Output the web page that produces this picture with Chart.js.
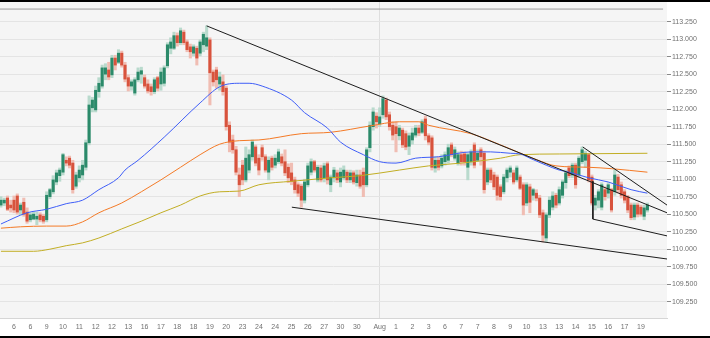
<!DOCTYPE html>
<html>
<head>
<meta charset="utf-8">
<script src="https://cdn.jsdelivr.net/npm/chart.js@4.4.0/dist/chart.umd.min.js"></script>
<style>
  html, body { margin: 0; padding: 0; background: #fff; }
  canvas { display: block; }
</style>
</head>
<body>
<canvas id="grafico" width="710" height="338"></canvas>
<script>
// Velas (4h)
const openP = [
  110.63,110.66,110.73,110.63,110.70,110.76,110.56,110.67,110.53,110.42,
  110.43,110.43,110.49,110.47,110.42,110.75,110.82,110.96,111.05,111.10,
  111.27,111.30,111.23,110.90,111.02,111.06,111.17,111.52,112.02,111.99,
  112.25,112.33,112.50,112.56,112.49,112.73,112.67,112.80,112.63,112.45,
  112.33,112.23,112.42,112.50,112.45,112.36,112.32,112.25,112.45,112.36,
  112.37,112.62,112.87,112.87,113.05,112.95,113.10,112.96,112.89,112.80,
  112.87,112.80,112.92,112.90,112.99,112.53,112.56,112.36,112.39,112.30,
  111.77,111.56,111.42,111.06,111.20,110.99,111.13,111.32,111.46,111.30,
  111.45,111.32,111.10,111.30,111.20,111.25,111.32,111.25,111.17,111.09,
  110.99,110.92,110.90,110.70,110.92,111.10,111.25,110.99,111.16,111.02,
  111.22,110.92,111.02,111.09,110.96,111.02,111.10,110.99,111.09,110.95,
  111.06,111.10,110.92,111.45,111.75,111.90,111.79,111.92,112.13,111.92,
  111.77,111.75,111.62,111.70,111.65,111.47,111.56,111.63,111.73,111.67,
  111.86,111.62,111.59,111.16,111.27,111.19,111.25,111.27,111.49,111.30,
  111.23,111.35,111.36,111.17,111.25,111.49,111.27,111.42,111.37,110.96,
  111.13,111.06,111.03,110.89,110.82,111.02,111.10,111.09,110.99,111.03,
  110.92,110.66,110.89,110.77,110.80,110.73,110.52,110.16,110.49,110.60,
  110.77,110.66,110.77,110.95,111.16,111.06,111.20,111.06,111.25,111.27,
  111.35,111.03,110.63,110.70,110.60,110.85,110.80,110.85,110.82,111.03,
  110.92,110.82,110.75,110.63,110.46,110.63,110.60,110.47,110.56
];
const highP = [
  110.75,110.73,110.76,110.70,110.76,110.79,110.66,110.73,110.59,110.52,
  110.53,110.53,110.52,110.50,110.82,110.87,111.05,111.13,111.16,111.37,
  111.32,111.33,111.27,111.10,111.19,111.27,111.56,112.19,112.17,112.33,
  112.45,112.63,112.65,112.67,112.77,112.77,112.85,112.83,112.67,112.49,
  112.42,112.45,112.59,112.60,112.49,112.42,112.36,112.45,112.47,112.59,
  112.62,112.95,113.02,113.10,113.09,113.16,113.13,112.99,112.93,112.92,
  112.90,112.99,113.10,113.19,113.02,112.56,112.60,112.53,112.49,112.33,
  111.82,111.63,111.47,111.16,111.27,111.46,111.42,111.56,111.49,111.35,
  111.49,111.35,111.32,111.33,111.35,111.43,111.36,111.42,111.22,111.23,
  111.03,110.95,110.93,111.00,111.23,111.29,111.27,111.20,111.20,111.23,
  111.25,111.06,111.17,111.13,111.16,111.19,111.13,111.13,111.12,111.13,
  111.13,111.16,111.45,111.82,112.02,111.95,112.02,112.19,112.16,111.96,
  111.82,111.82,111.77,111.73,111.69,111.66,111.73,111.77,111.77,111.85,
  111.90,111.65,111.62,111.32,111.32,111.35,111.39,111.50,111.52,111.46,
  111.39,111.40,111.39,111.37,111.42,111.52,111.42,111.45,111.40,111.16,
  111.16,111.10,111.06,110.92,111.07,111.16,111.19,111.13,111.19,111.06,
  110.95,110.95,110.93,110.87,110.85,110.77,110.56,110.52,110.75,110.82,
  110.80,110.89,110.99,111.13,111.19,111.23,111.23,111.33,111.46,111.40,
  111.37,111.06,110.77,110.85,110.95,110.89,110.95,110.87,111.13,111.07,
  110.96,110.85,110.77,110.66,110.66,110.66,110.63,110.63,110.66
];
const lowP = [
  110.60,110.62,110.55,110.53,110.52,110.50,110.49,110.47,110.37,110.39,
  110.42,110.35,110.39,110.37,110.39,110.72,110.79,110.92,110.97,111.06,
  111.19,111.16,110.80,110.87,110.96,110.99,111.13,111.49,111.96,111.96,
  112.17,112.30,112.42,112.42,112.45,112.56,112.65,112.60,112.39,112.26,
  112.27,112.20,112.39,112.37,112.30,112.23,112.20,112.22,112.26,112.27,
  112.33,112.59,112.79,112.85,112.90,112.92,112.92,112.82,112.73,112.76,
  112.63,112.76,112.82,112.85,112.06,112.33,112.30,112.27,112.20,111.70,
  111.39,111.37,111.06,110.75,110.92,110.96,111.09,111.27,111.19,111.06,
  111.27,111.10,110.99,111.13,111.16,111.22,111.19,111.05,110.95,110.92,
  110.80,110.75,110.60,110.66,110.89,111.06,111.10,110.96,110.96,110.96,
  110.93,110.82,110.96,110.95,110.89,110.99,110.95,110.95,110.93,110.90,
  110.87,110.75,110.89,111.39,111.70,111.73,111.75,111.87,111.85,111.70,
  111.56,111.39,111.56,111.45,111.42,111.35,111.50,111.60,111.62,111.65,
  111.56,111.49,111.13,111.10,111.13,111.16,111.20,111.23,111.32,111.27,
  111.20,111.20,111.20,110.99,111.20,111.16,111.25,111.20,110.80,110.92,
  110.95,110.85,110.70,110.70,110.79,110.96,111.03,110.93,110.96,110.85,
  110.49,110.62,110.52,110.70,110.69,110.45,110.10,110.10,110.45,110.56,
  110.59,110.63,110.73,110.87,111.02,111.02,110.87,111.02,111.22,111.17,
  110.96,110.63,110.56,110.59,110.56,110.70,110.73,110.53,110.77,110.80,
  110.73,110.66,110.52,110.42,110.42,110.46,110.47,110.42,110.53
];
const closeP = [
  110.70,110.70,110.57,110.59,110.56,110.53,110.63,110.50,110.40,110.49,
  110.50,110.47,110.42,110.40,110.77,110.85,110.99,111.09,111.13,111.35,
  111.23,111.20,110.85,111.06,111.13,111.20,111.52,112.06,112.13,112.27,
  112.37,112.59,112.59,112.46,112.73,112.63,112.80,112.63,112.43,112.33,
  112.39,112.42,112.53,112.55,112.33,112.26,112.25,112.42,112.30,112.53,
  112.59,112.92,112.96,113.05,112.95,113.12,112.95,112.85,112.82,112.89,
  112.73,112.96,113.07,113.02,112.52,112.39,112.42,112.46,112.25,111.75,
  111.53,111.42,111.10,110.92,110.99,111.30,111.35,111.53,111.23,111.13,
  111.32,111.13,111.27,111.17,111.30,111.39,111.23,111.09,111.02,110.97,
  110.85,110.80,110.70,110.96,111.19,111.25,111.13,111.17,110.99,111.19,
  110.99,111.03,111.13,110.99,111.10,111.13,110.99,111.09,110.96,111.06,
  110.90,110.92,111.42,111.77,111.96,111.82,111.89,112.15,111.89,111.75,
  111.63,111.65,111.73,111.49,111.46,111.62,111.66,111.73,111.66,111.82,
  111.62,111.53,111.17,111.27,111.17,111.30,111.35,111.45,111.35,111.42,
  111.35,111.25,111.25,111.35,111.39,111.20,111.37,111.32,110.85,111.13,
  110.99,110.89,110.77,110.75,111.03,111.13,111.16,110.96,111.16,110.87,
  110.63,110.92,110.67,110.85,110.73,110.49,110.20,110.49,110.70,110.76,
  110.63,110.85,110.96,111.09,111.05,111.20,110.92,111.30,111.42,111.37,
  110.99,110.66,110.73,110.82,110.92,110.75,110.92,110.56,111.06,110.85,
  110.77,110.70,110.56,110.45,110.63,110.50,110.50,110.59,110.63
];

// Médias móveis (índice da vela, preço)
const maAzulIdx = [0, 8, 14, 20, 25, 30, 36, 38, 42, 50, 61, 67, 73, 76, 80, 89, 93, 100, 104, 111, 116, 121, 127, 134, 144, 150, 156, 159, 162, 167, 171, 174, 180, 186, 193, 198];
const maAzul    = [110.36, 110.52, 110.57, 110.65, 110.70, 110.85, 111.02, 111.13, 111.27, 111.60, 112.09, 112.32, 112.37, 112.37, 112.33, 112.13, 111.95, 111.73, 111.53, 111.35, 111.25, 111.23, 111.30, 111.32, 111.39, 111.39, 111.37, 111.36, 111.30, 111.20, 111.13, 111.10, 111.02, 110.96, 110.85, 110.80];
const maLaranjaIdx = [0, 6, 14, 20, 25, 30, 37, 43, 49, 55, 61, 67, 73, 79, 92, 101, 113, 122, 128, 131, 144, 153, 164, 170, 180, 187, 198];
const maLaranja    = [110.30, 110.32, 110.33, 110.33, 110.39, 110.52, 110.66, 110.82, 110.99, 111.17, 111.35, 111.50, 111.55, 111.56, 111.65, 111.67, 111.76, 111.82, 111.82, 111.77, 111.65, 111.49, 111.28, 111.19, 111.17, 111.15, 111.10];
const maOlivaIdx = [0, 10, 15, 20, 25, 30, 37, 43, 49, 55, 61, 67, 73, 79, 89, 101, 110, 122, 131, 141, 153, 159, 171, 198];
const maOliva    = [109.97, 109.97, 110.00, 110.05, 110.09, 110.16, 110.29, 110.40, 110.52, 110.63, 110.76, 110.82, 110.83, 110.92, 110.97, 111.02, 111.05, 111.13, 111.19, 111.23, 111.30, 111.35, 111.36, 111.37];

// Linhas de tendência (índice, preço)
const tendSuperior   = [[63, 113.19], [204, 110.52]];
const tendInferior   = [[89.1, 110.60], [204, 109.86]];
const cunhaSuperior  = [[178.2, 111.46], [204, 110.63]];
const cunhaInferior  = [[181.3, 110.97], [181.3, 110.43], [204, 110.19]];
const linhaTopo      = [[-0.3, 113.43], [202.8, 113.43]];

// Eixos
const xTickPos = [4, 9, 14, 19, 24, 29, 34, 39, 44, 49, 54, 59, 64, 69, 74, 79, 84, 89, 94, 99, 104, 109,
                  116, 121, 126, 131, 136, 141, 146, 151, 156, 161, 166, 171, 176, 181, 186, 191, 196];
const xTickLabels = ['6', '6', '9', '10', '11', '12', '12', '13', '16', '17', '18', '18', '19', '20', '23', '24', '24', '25', '26', '27', '30', '30',
                     'Aug', '1', '2', '3', '6', '7', '7', '8', '9', '10', '13', '13', '14', '15', '16', '17', '19'];
const yTicks = [109.25, 109.5, 109.75, 110, 110.25, 110.5, 110.75, 111, 111.25, 111.5, 111.75, 112, 112.25, 112.5, 112.75, 113, 113.25];
const MES_POS = 116;
const X_MIN = -0.29, X_MAX = 204.0;
const Y_MIN = 109.017, Y_MAX = 113.531;

// Cores
const VERDE = '#2b8a6a', VERDE_CLARO = '#b9dacd';
const VERMELHO = '#d8533d', VERMELHO_CLARO = '#f0bdb3';
const fonte = { family: "'Liberation Sans', Arial, sans-serif", size: 7 };

const idx = closeP.map((_, i) => i);
const sobe = idx.map(i => closeP[i] >= openP[i]);
const pares = (xs, ys) => xs.map((x, k) => ({ x: x, y: ys[k] }));
const pontos = arr => arr.map(p => ({ x: p[0], y: p[1] }));

function linha(data, cor, ordem, extra) {
  return Object.assign({
    type: 'line', data: data, borderColor: cor, borderWidth: 1,
    pointRadius: 0, fill: false, order: ordem
  }, extra || {});
}

// sem folga extra em volta da área do gráfico
function semFolga(s) {
  s.paddingTop = 0; s.paddingBottom = 0;
  s.paddingLeft = 0; s.paddingRight = 0;
}

const fundo = {
  id: 'fundo',
  beforeDraw(chart) {
    const { ctx, chartArea: a, width, height } = chart;
    ctx.save();
    ctx.fillStyle = '#ffffff';
    ctx.fillRect(0, 0, width, height);
    ctx.fillStyle = '#f5f5f5';
    ctx.fillRect(a.left, a.top, a.right - a.left, a.bottom - a.top);
    ctx.restore();
  },
  afterDraw(chart) {
    const { ctx, width, height } = chart;
    ctx.save();
    ctx.fillStyle = '#000';
    ctx.fillRect(0, 0, width, 2);
    ctx.fillRect(0, height - 2, width, 2);
    ctx.restore();
  }
};

new Chart(document.getElementById('grafico'), {
  type: 'bar',
  data: {
    datasets: [
      linha(pontos(linhaTopo), '#9a9a9a', -2),
      linha(pontos(tendSuperior), '#1c1c1c', -1),
      linha(pontos(tendInferior), '#1c1c1c', -1),
      linha(pontos(cunhaSuperior), '#1c1c1c', -1),
      linha(pontos(cunhaInferior), '#1c1c1c', -1),
      linha(pares(maAzulIdx, maAzul), '#3f5ef8', 0, { cubicInterpolationMode: 'monotone' }),
      linha(pares(maLaranjaIdx, maLaranja), '#f47a26', 0, { cubicInterpolationMode: 'monotone' }),
      linha(pares(maOlivaIdx, maOliva), '#c2ae24', 0, { cubicInterpolationMode: 'monotone' }),
      {
        label: 'corpo',
        data: idx.map(i => ({ x: i, y: [openP[i], closeP[i]] })),
        backgroundColor: idx.map(i => sobe[i] ? VERDE : VERMELHO),
        barThickness: 2.4, minBarLength: 1, grouped: false, borderWidth: 0, order: 1
      },
      {
        label: 'pavio',
        data: idx.map(i => ({ x: i, y: [lowP[i], highP[i]] })),
        backgroundColor: idx.map(i => sobe[i] ? VERDE_CLARO : VERMELHO_CLARO),
        barThickness: 2.4, grouped: false, borderWidth: 0, order: 2
      }
    ]
  },
  options: {
    responsive: false,
    animation: false,
    devicePixelRatio: 1,
    layout: { padding: { top: 2, left: 0, right: 0, bottom: 0 } },
    plugins: { legend: { display: false }, tooltip: { enabled: false } },
    scales: {
      x: {
        type: 'linear', min: X_MIN, max: X_MAX, offset: false,
        afterBuildTicks: s => { s.ticks = xTickPos.map(v => ({ value: v })); },
        afterFit: s => { s.height = 20; semFolga(s); },
        grid: {
          offset: false,
          drawTicks: false,
          color: c => (c.tick && c.tick.value === MES_POS) ? '#dedede' : 'rgba(0,0,0,0)'
        },
        border: { color: '#d6d6d6' },
        ticks: {
          autoSkip: false, maxRotation: 0, minRotation: 0, padding: 5,
          color: '#707070', font: fonte,
          callback: (v, i) => xTickLabels[i]
        }
      },
      y: {
        position: 'right', min: Y_MIN, max: Y_MAX,
        afterBuildTicks: s => { s.ticks = yTicks.map(v => ({ value: v })); },
        afterFit: s => { s.width = 43; semFolga(s); },
        grid: { color: '#e4e4e4', tickColor: '#8a8a8a', tickLength: 4 },
        border: { display: false },
        ticks: { padding: 1, color: '#707070', font: fonte, callback: v => v.toFixed(3) }
      }
    }
  },
  plugins: [fundo]
});
</script>
</body>
</html>
